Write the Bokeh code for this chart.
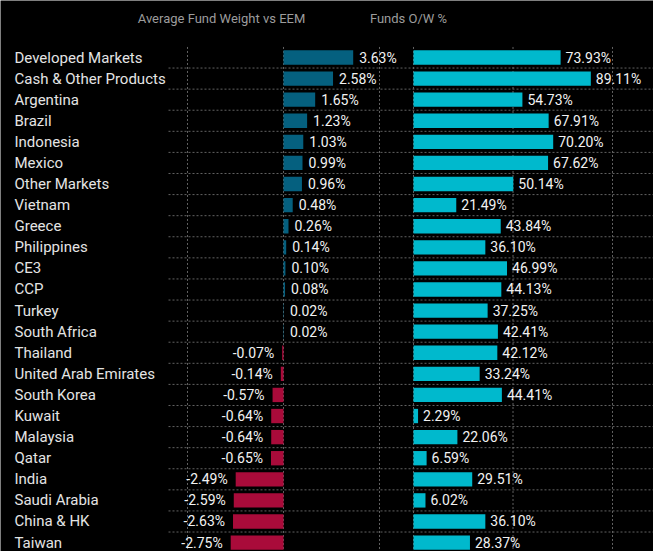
from bokeh.plotting import figure
from bokeh.models import ColumnDataSource, Range1d
from bokeh.core.properties import value
from bokeh.embed import file_html
from bokeh.resources import INLINE

categories = ["Developed Markets", "Cash & Other Products", "Argentina", "Brazil",
              "Indonesia", "Mexico", "Other Markets", "Vietnam", "Greece",
              "Philippines", "CE3", "CCP", "Turkey", "South Africa", "Thailand",
              "United Arab Emirates", "South Korea", "Kuwait", "Malaysia", "Qatar",
              "India", "Saudi Arabia", "China & HK", "Taiwan"]
avg_weight = [3.63, 2.58, 1.65, 1.23, 1.03, 0.99, 0.96, 0.48, 0.26, 0.14, 0.10, 0.08,
              0.02, 0.02, -0.07, -0.14, -0.57, -0.64, -0.64, -0.65, -2.49, -2.59,
              -2.63, -2.75]
funds_ow = [73.93, 89.11, 54.73, 67.91, 70.20, 67.62, 50.14, 21.49, 43.84, 36.10,
            46.99, 44.13, 37.25, 42.41, 42.12, 33.24, 44.41, 2.29, 22.06, 6.59,
            29.51, 6.02, 36.10, 28.37]
left_ticks = [-5, 0, 5]
right_ticks = [0, 50, 100]
header_left = "Average Fund Weight vs EEM"
header_right = "Funds O/W %"

POS_COL = "#05607f"
NEG_COL = "#a90b3a"
OW_COL = "#00b9cd"
GRID_COL = "#626262"
FONT = value("Roboto")

W, H = 653, 551
# layout (pixels)
row_px, row0_px = 21.09, 57.0
zero_l, ppu_l = 283, 19.2
zero_r, ppu_r = 413, 1.99
grid_left_px = 168
label_px = 14
header_y_px = 18
header_x_px = [221, 408]

n = len(categories)
idx = list(range(n))

p = figure(width=W, height=H, output_backend="svg", toolbar_location=None,
           x_axis_type=None, y_axis_type=None,
           x_range=Range1d(-zero_l / ppu_l, (W - zero_l) / ppu_l),
           y_range=Range1d((H - row0_px) / row_px, -row0_px / row_px),
           min_border_left=0, min_border_top=0,
           min_border_right=0, min_border_bottom=0)
p.extra_x_ranges = {"right": Range1d(-zero_r / ppu_r, (W - zero_r) / ppu_r),
                    "px": Range1d(0, W)}
p.background_fill_color = "black"
p.border_fill_color = "black"
p.outline_line_color = None
p.xgrid.visible = False
p.ygrid.visible = False

grid_kw = dict(line_color=GRID_COL, line_dash="2 2", line_width=1)
# vertical grid lines at tick values of each panel
p.segment(x0=left_ticks, x1=left_ticks, y0=[-0.5] * len(left_ticks),
          y1=[n] * len(left_ticks), **grid_kw)
p.segment(x0=right_ticks, x1=right_ticks, y0=[-0.5] * len(right_ticks),
          y1=[n] * len(right_ticks), x_range_name="right", **grid_kw)
# horizontal separators between rows
seps = [i + 0.5 for i in idx]
p.segment(x0=[grid_left_px] * n, x1=[W] * n, y0=seps, y1=seps,
          x_range_name="px", **grid_kw)

src = ColumnDataSource(dict(
    idx=idx, cat=categories, avg=avg_weight, ow=funds_ow,
    col=[POS_COL if v >= 0 else NEG_COL for v in avg_weight],
    ow_lbl=[f"{v:.2f}%" for v in funds_ow],
    lab_x=[label_px] * n,
))

p.hbar(y="idx", left=0, right="avg", height=0.68, fill_color="col",
       line_color=None, source=src)
p.hbar(y="idx", left=0, right="ow", height=0.68, fill_color=OW_COL,
       line_color=None, source=src, x_range_name="right")

pos = [i for i in idx if avg_weight[i] >= 0]
neg = [i for i in idx if avg_weight[i] < 0]
pos_src = ColumnDataSource(dict(idx=pos, x=[avg_weight[i] for i in pos],
                                lbl=[f"{avg_weight[i]:.2f}%" for i in pos]))
neg_src = ColumnDataSource(dict(idx=neg, x=[avg_weight[i] for i in neg],
                                lbl=[f"{avg_weight[i]:.2f}%" for i in neg]))

txt_kw = dict(text_color="#f2f2f2", text_font=FONT, text_font_size="14px",
              text_baseline="middle")
p.text(x="x", y="idx", text="lbl", source=pos_src, text_align="left",
       x_offset=6, **txt_kw)
p.text(x="x", y="idx", text="lbl", source=neg_src, text_align="right",
       x_offset=-8, **txt_kw)
p.text(x="ow", y="idx", text="ow_lbl", source=src, text_align="left",
       x_offset=5, x_range_name="right", **txt_kw)

p.text(x="lab_x", y="idx", text="cat", source=src, text_align="left",
       text_baseline="middle", text_color="#e4e4e4", text_font=FONT,
       text_font_size="15px", x_range_name="px")

hy = (header_y_px - row0_px) / row_px
p.text(x=header_x_px, y=[hy, hy], text=[header_left, header_right],
       text_align="center", text_baseline="middle", text_color="#9c9c9c",
       text_font=FONT, text_font_size="13px", x_range_name="px")

open("out.html", "w").write(file_html(p, INLINE))
